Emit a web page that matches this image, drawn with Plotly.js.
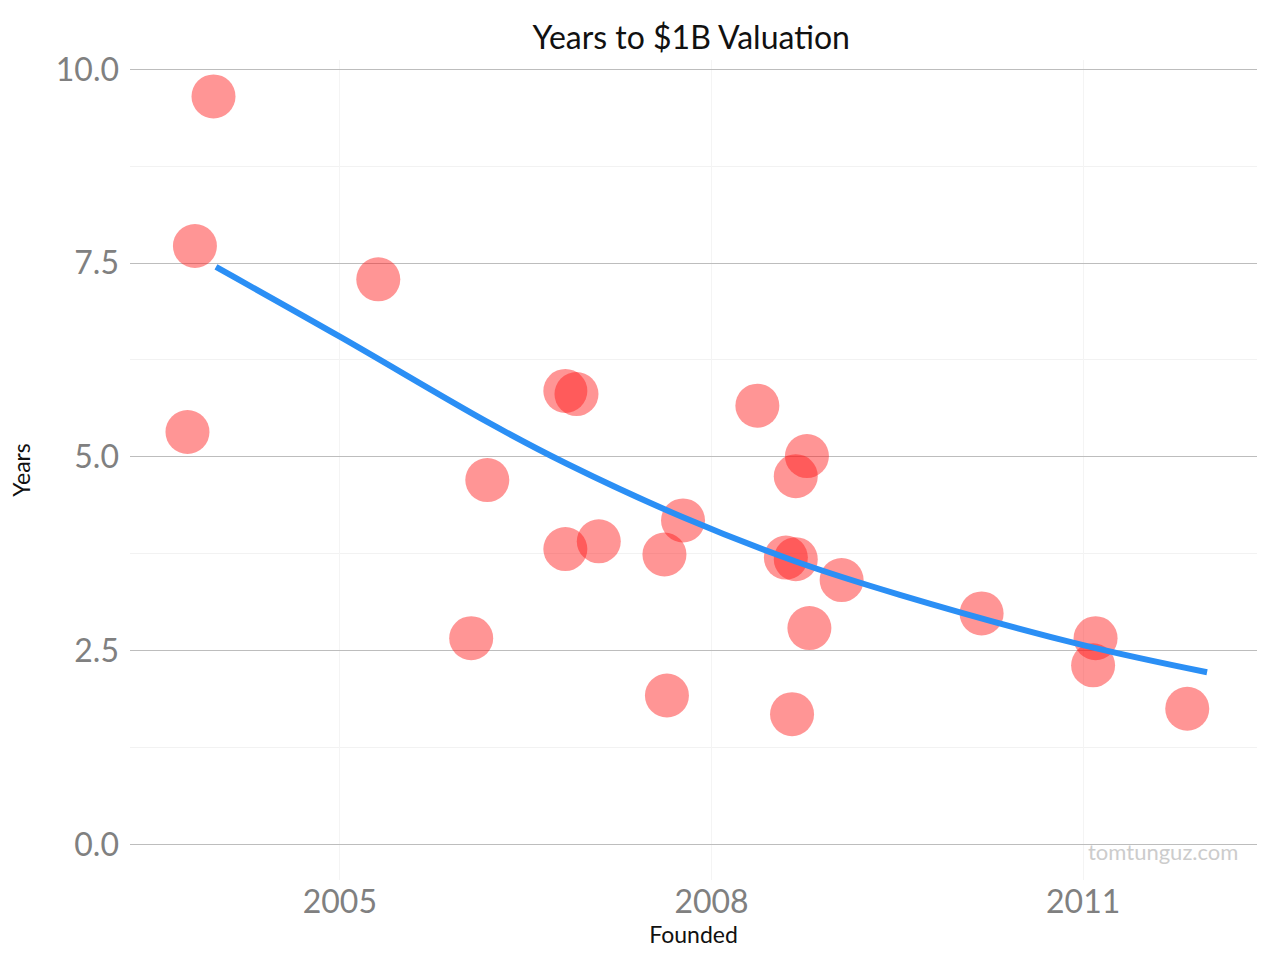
<!DOCTYPE html>
<html>
<head>
<script src="https://cdn.plot.ly/plotly-3.0.1.min.js"></script>
<style>body{margin:0;background:#fff}</style>
</head>
<body>
<div id="chart" style="width:1280px;height:960px"></div>
<script>
const founded = [2003.98, 2003.83, 2003.77, 2005.31, 2006.19, 2006.06, 2006.82, 2006.91, 2006.82, 2007.09,
  2007.62, 2007.77, 2007.64, 2008.37, 2008.77, 2008.68, 2008.60, 2008.68, 2008.79, 2008.65,
  2009.05, 2010.18, 2011.10, 2011.08, 2011.84];
const years = [9.65, 7.72, 5.32, 7.29, 4.70, 2.66, 5.85, 5.81, 3.81, 3.91,
  3.74, 4.18, 1.92, 5.66, 5.01, 4.75, 3.70, 3.68, 2.79, 1.68,
  3.41, 2.98, 2.66, 2.31, 1.75];
const trendX = [2004.0, 2005.0, 2006.19, 2006.82, 2007.77, 2008.68, 2009.52, 2011.0, 2012.0];
const trendY = [7.45, 6.55, 5.45, 4.92, 4.22, 3.65, 3.22, 2.57, 2.22];

const font = "Lato, 'Open Sans', sans-serif";

const data = [
  {
    type: "scatter", mode: "markers", x: founded, y: years,
    marker: { size: 44, color: "rgba(255,20,20,0.45)", line: { width: 0 } },
    hoverinfo: "x+y"
  },
  {
    type: "scatter", mode: "lines", x: trendX, y: trendY,
    line: { color: "#2b8ff5", width: 6, shape: "spline" }
  }
];

const layout = {
  width: 1280, height: 960,
  margin: { l: 130, r: 23, t: 60, b: 80 },
  paper_bgcolor: "#fff", plot_bgcolor: "#fff",
  showlegend: false,
  font: { family: font },
  title: { text: "Years to $1B Valuation", x: 0.54, y: 0.972, font: { size: 32, color: "#111" } },
  xaxis: {
    range: [2003.306, 2012.403],
    tickvals: [2005, 2008, 2011], ticktext: ["2005", "2008", "2011"],
    tickfont: { size: 32, color: "#808080" },
    showgrid: true, gridcolor: "#f4f4f4", gridwidth: 1,
    zeroline: false, showline: false, ticks: "",
    title: { text: "Founded", font: { size: 23, color: "#111" }, standoff: 4 }
  },
  yaxis: {
    range: [-0.46, 10.12],
    tickvals: [0, 2.5, 5, 7.5, 10], ticktext: ["0.0", "2.5", "5.0", "7.5", "10.0"],
    tickfont: { size: 32, color: "#808080" },
    showgrid: true, gridcolor: "#bdbdbd", gridwidth: 1,
    minor: { tickvals: [1.25, 3.75, 6.25, 8.75], showgrid: true, gridcolor: "#f2f2f2" },
    zeroline: false, showline: false, ticks: "", ticklabelstandoff: 10,
    title: { text: "Years", font: { size: 23, color: "#111" }, standoff: 18 }
  },
  annotations: [{
    text: "tomtunguz.com", xref: "paper", yref: "paper", x: 0.985, y: 0.035,
    xanchor: "right", yanchor: "middle", showarrow: false,
    font: { size: 22, color: "#cccccc" }
  }]
};

Plotly.newPlot("chart", data, layout, { displayModeBar: false });
</script>
</body>
</html>
